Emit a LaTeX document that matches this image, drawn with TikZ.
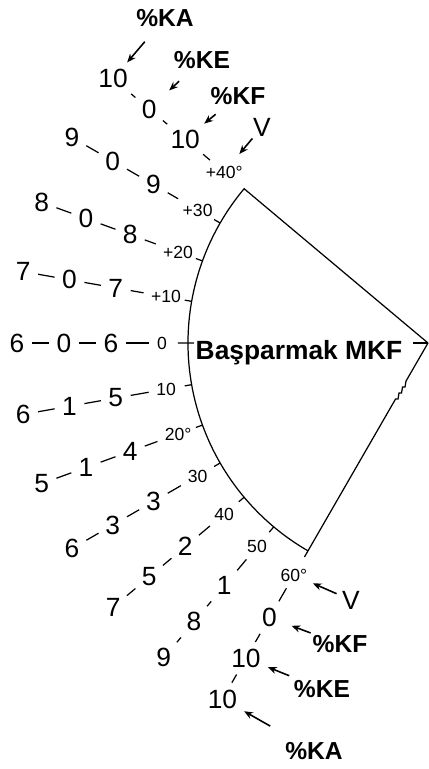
\documentclass[tikz,border=0pt]{standalone}
\usepackage{fontspec}
\setmainfont{Liberation Sans}
\usetikzlibrary{arrows.meta}

\begin{document}
\begin{tikzpicture}[x=0.02cm, y=0.02cm, line width=0.7pt,
    num/.style={font=\fontsize{15}{15}\selectfont, inner sep=1pt},
    ang/.style={font=\fontsize{10}{10}\selectfont, inner sep=1pt},
    tag/.style={font=\bfseries\fontsize{14}{14}\selectfont, inner sep=1pt},
    vtag/.style={font=\fontsize{15}{15}\selectfont, inner sep=1pt},
    link/.style={shorten <=3pt, shorten >=3pt},
    ptr/.style={-{Stealth[length=5pt,width=4pt]}, line width=0.9pt}]
    \useasboundingbox (-428,-426) rectangle (1,343);

    \draw (0,0) -- (140:240) arc[start angle=140, end angle=240, radius=240];
    \draw (0,0) -- (240:44) -- ++(-1,-6) -- ++(-2.5,0) -- ++(-1,-6) -- ++(-2.5,0)
          -- ++(-1,-6) -- ++(-2.5,0) -- (240:240);
    \draw (-15,0) -- (0,0);
    \draw (150:240) -- (150:247) (160:240) -- (160:247) (170:240) -- (170:247)
          (180:234) -- (180:250) (190:240) -- (190:247) (200:240) -- (200:247)
          (210:240) -- (210:247) (220:240) -- (220:247) (230:240) -- (230:247)
          (240:240) -- (240:247);

    \node[tag, font=\bfseries\fontsize{15}{15}\selectfont, anchor=base] (thumb) at (-129,-16) {Başparmak MKF};

    \node[ang] (lu40) at (140:266) {+40°};  \node[num] (au40) at (140:317) {10};
    \node[num] (bu40) at (140:364) {0};     \node[num] (cu40) at (140:411) {10};
    \node[ang] (lu30) at (150:266) {+30};   \node[num] (au30) at (150:317) {9};
    \node[num] (bu30) at (150:364) {0};     \node[num] (cu30) at (150:411) {9};
    \node[ang] (lu20) at (160:266) {+20};   \node[num] (au20) at (160:317) {8};
    \node[num] (bu20) at (160:364) {0};     \node[num] (cu20) at (160:411) {8};
    \node[ang] (lu10) at (170:266) {+10};   \node[num] (au10) at (170:317) {7};
    \node[num] (bu10) at (170:364) {0};     \node[num] (cu10) at (170:411) {7};
    \node[ang] (l0) at (180:266) {0};       \node[num] (a0) at (180:317) {6};
    \node[num] (b0) at (180:364) {0};       \node[num] (c0) at (180:411) {6};
    \node[ang] (ld10) at (190:266) {10};    \node[num] (ad10) at (190:317) {5};
    \node[num] (bd10) at (190:364) {1};     \node[num] (cd10) at (190:411) {6};
    \node[ang] (ld20) at (200:266) {20°};   \node[num] (ad20) at (200:317) {4};
    \node[num] (bd20) at (200:364) {1};     \node[num] (cd20) at (200:411) {5};
    \node[ang] (ld30) at (210:266) {30};    \node[num] (ad30) at (210:317) {3};
    \node[num] (bd30) at (210:364) {3};     \node[num] (cd30) at (210:411) {6};
    \node[ang] (ld40) at (220:266) {40};    \node[num] (ad40) at (220:317) {2};
    \node[num] (bd40) at (220:364) {5};     \node[num] (cd40) at (220:411) {7};
    \node[ang] (ld50) at (230:266) {50};    \node[num] (ad50) at (230:317) {1};
    \node[num] (bd50) at (230:364) {8};     \node[num] (cd50) at (230:411) {9};
    \node[ang] (ld60) at (240:268) {60°};   \node[num] (ad60) at (240:317) {0};
    \node[num] (bd60) at (240:364) {10};    \node[num] (cd60) at (240:411) {10};

    \draw[link] (lu40) -- (au40); \draw[link] (au40) -- (bu40); \draw[link] (bu40) -- (cu40);
    \draw[link] (lu30) -- (au30); \draw[link] (au30) -- (bu30); \draw[link] (bu30) -- (cu30);
    \draw[link] (lu20) -- (au20); \draw[link] (au20) -- (bu20); \draw[link] (bu20) -- (cu20);
    \draw[link] (lu10) -- (au10); \draw[link] (au10) -- (bu10); \draw[link] (bu10) -- (cu10);
    \draw[link] (l0) -- (a0);     \draw[link] (a0) -- (b0);     \draw[link] (b0) -- (c0);
    \draw[link] (ld10) -- (ad10); \draw[link] (ad10) -- (bd10); \draw[link] (bd10) -- (cd10);
    \draw[link] (ld20) -- (ad20); \draw[link] (ad20) -- (bd20); \draw[link] (bd20) -- (cd20);
    \draw[link] (ld30) -- (ad30); \draw[link] (ad30) -- (bd30); \draw[link] (bd30) -- (cd30);
    \draw[link] (ld40) -- (ad40); \draw[link] (ad40) -- (bd40); \draw[link] (bd40) -- (cd40);
    \draw[link] (ld50) -- (ad50); \draw[link] (ad50) -- (bd50); \draw[link] (bd50) -- (cd50);
    \draw[link] (ld60) -- (ad60); \draw[link] (ad60) -- (bd60); \draw[link] (bd60) -- (cd60);

    \node[tag] (kau) at (-263,325) {\%KA};
    \node[tag] (keu) at (-226,283) {\%KE};
    \node[tag] (kfu) at (-190,247) {\%KF};
    \node[vtag] (vu) at (-166,216) {V};
    \node[vtag] (vd) at (-77,-257) {V};
    \node[tag] (kfd) at (-88,-301) {\%KF};
    \node[tag] (ked) at (-106,-346) {\%KE};
    \node[tag] (kad) at (-114,-408) {\%KA};

    \draw[ptr, shorten <=9.5pt, shorten >=3.5pt] (kau) -- (cu40);
    \draw[ptr, shorten <=8.5pt, shorten >=8pt] (keu) -- (bu40);
    \draw[ptr, shorten <=6.5pt, shorten >=3.5pt] (kfu) -- (au40);
    \draw[ptr, shorten <=0pt, shorten >=7pt] (vu) -- (lu40);
    \draw[ptr, shorten <=2pt, shorten >=2pt] (vd) -- (ld60);
    \draw[ptr, shorten <=0pt, shorten >=7.5pt] (kfd) -- (ad60);
    \draw[ptr, shorten <=3.4pt, shorten >=3pt] (ked) -- (bd60);
    \draw[ptr, shorten <=16pt, shorten >=3pt] (kad) -- (cd60);
\end{tikzpicture}
\end{document}
